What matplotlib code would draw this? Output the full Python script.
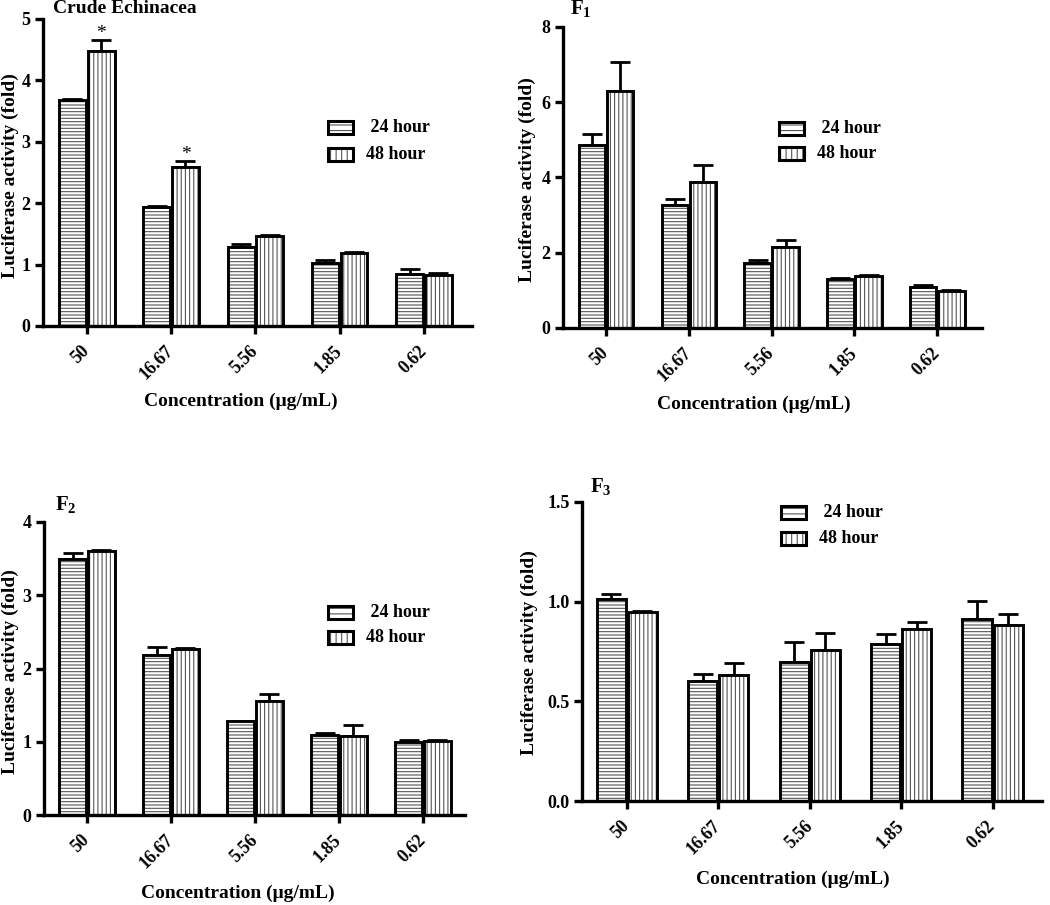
import numpy as np
import matplotlib
matplotlib.use("Agg")
import matplotlib.pyplot as plt
from matplotlib.patches import Rectangle

plt.rcParams['font.family'] = ['Liberation Serif', 'DejaVu Serif']
plt.rcParams['font.weight'] = 'bold'
plt.rcParams['mathtext.fontset'] = 'custom'
plt.rcParams['mathtext.rm'] = 'Liberation Serif:bold'
plt.rcParams['mathtext.bf'] = 'Liberation Serif:bold'
plt.rcParams['hatch.linewidth'] = 0.8

categories = ["50", "16.67", "5.56", "1.85", "0.62"]
series_names = [" 24 hour", "48 hour"]

crude_24 = [3.68, 1.94, 1.28, 1.02, 0.85]
crude_24_err = [0.02, 0.02, 0.05, 0.06, 0.08]
crude_48 = [4.48, 2.59, 1.47, 1.19, 0.83]
crude_48_err = [0.18, 0.10, 0.02, 0.01, 0.04]
crude_sig = [True, True, False, False, False]

f1_24 = [4.86, 3.26, 1.74, 1.29, 1.09]
f1_24_err = [0.29, 0.18, 0.06, 0.03, 0.05]
f1_48 = [6.29, 3.88, 2.15, 1.37, 0.98]
f1_48_err = [0.78, 0.45, 0.20, 0.05, 0.04]

f2_24 = [3.49, 2.19, 1.28, 1.09, 1.00]
f2_24_err = [0.08, 0.10, 0.01, 0.03, 0.02]
f2_48 = [3.61, 2.26, 1.56, 1.08, 1.01]
f2_48_err = [0.01, 0.02, 0.09, 0.15, 0.02]

f3_24 = [1.012, 0.603, 0.699, 0.786, 0.915]
f3_24_err = [0.027, 0.034, 0.10, 0.052, 0.09]
f3_48 = [0.950, 0.632, 0.758, 0.862, 0.882]
f3_48_err = [0.003, 0.062, 0.083, 0.035, 0.057]

W, H = 1050, 905
fig = plt.figure(figsize=(W / 100, H / 100), dpi=100)

def px_axes(left, right, top, bottom):
    return fig.add_axes([left / W, 1 - bottom / H, (right - left) / W, (bottom - top) / H])

XLAB = "Concentration (\u03bcg/mL)"
YLAB = "Luciferase activity (fold)"

def panel(box, xlim, ylim, yticks, yfmt, v24, e24, v48, e48, leg, xlab_pos, ylab_pos, width, sig=None):
    ax = px_axes(*box)
    x = np.arange(len(categories))
    off = width / 2 + 0.01
    for vals, errs, dx, hatch in [(v24, e24, -off, '-----'), (v48, e48, off, '||||')]:
        ax.bar(x + dx, vals, width, color='white', edgecolor='#555555', linewidth=0, hatch=hatch, zorder=2)
        ax.bar(x + dx, vals, width, fill=False, edgecolor='black', linewidth=2.1, zorder=3)
        ax.errorbar(x + dx, vals, yerr=[np.zeros(len(vals)), errs], fmt='none', ecolor='black',
                    elinewidth=2.0, capsize=7, capthick=2.0, zorder=1)
    if sig is not None:
        for i, s in enumerate(sig):
            if s:
                ax.text(x[i] + off, v48[i] + e48[i] + 0.005 * ylim[1], '*', ha='center', va='baseline',
                        fontsize=14, fontweight='normal')
    ax.set_xlim(*xlim)
    ax.set_ylim(*ylim)
    ax.set_yticks(yticks)
    ax.set_yticklabels([yfmt.format(t) for t in yticks])
    ax.set_xticks(x)
    ax.set_xticklabels(categories, rotation=45, ha='right', rotation_mode='anchor', va='center')
    for sp in ['top', 'right']:
        ax.spines[sp].set_visible(False)
    for sp in ['left', 'bottom']:
        ax.spines[sp].set_linewidth(2.4)
    ax.tick_params(axis='both', direction='out', length=6, width=2.4, labelsize=13, pad=3)
    ax.tick_params(axis='x', pad=10)
    ax.set_xlabel(XLAB, fontsize=14, fontweight='bold')
    ax.xaxis.set_label_coords(*xlab_pos)
    ax.set_ylabel(YLAB, fontsize=14, fontweight='bold')
    ax.yaxis.set_label_coords(*ylab_pos)
    # legend
    bw, bh = box[1] - box[0], box[3] - box[2]
    lx, ly1, ly2 = leg
    pw, ph = 25 / bw, 13 / bh
    for yy, hatch, name in [(ly1, '---', series_names[0]), (ly2, '|||', series_names[1])]:
        ax.add_patch(Rectangle((lx, yy - ph / 2), pw, ph, transform=ax.transAxes, facecolor='white',
                               edgecolor='#555555', linewidth=0, hatch=hatch, clip_on=False, zorder=4))
        ax.add_patch(Rectangle((lx, yy - ph / 2), pw, ph, transform=ax.transAxes, fill=False,
                               edgecolor='black', linewidth=2.2, clip_on=False, zorder=5))
        ax.text(lx + pw + 13 / bw, yy, name, transform=ax.transAxes, ha='left', va='center',
                fontsize=13, fontweight='bold')
    return ax

panel((43, 472, 19, 326), (-0.52, 4.57), (0, 5), [0, 1, 2, 3, 4, 5], "{:g}",
      crude_24, crude_24_err, crude_48, crude_48_err,
      (0.664, 0.645, 0.56), (0.46, -0.218), (-0.056, 0.49), 0.32, sig=crude_sig)
panel((563, 982, 27, 328), (-0.52, 4.54), (0, 8), [0, 2, 4, 6, 8], "{:g}",
      f1_24, f1_24_err, f1_48, f1_48_err,
      (0.516, 0.663, 0.58), (0.456, -0.224), (-0.064, 0.494), 0.32)
panel((44, 465, 522, 815), (-0.51, 4.5), (0, 4), [0, 1, 2, 3, 4], "{:g}",
      f2_24, f2_24_err, f2_48, f2_48_err,
      (0.675, 0.69, 0.605), (0.46, -0.239), (-0.059, 0.49), 0.32)
panel((582, 1042, 502, 801), (-0.49, 4.54), (0, 1.5), [0, 0.5, 1.0, 1.5], "{:.1f}",
      f3_24, f3_24_err, f3_48, f3_48_err,
      (0.433, 0.964, 0.877), (0.459, -0.232), (-0.096, 0.495), 0.32)

fig.text(53 / W, 1 - 13 / H, "Crude Echinacea", fontsize=14, fontweight='bold', va='baseline', ha='left')
fig.text(570 / W, 1 - 14 / H, r"F$_1$", fontsize=15, fontweight='bold', va='baseline', ha='left')
fig.text(55 / W, 1 - 510 / H, r"F$_2$", fontsize=15, fontweight='bold', va='baseline', ha='left')
fig.text(590 / W, 1 - 492 / H, r"F$_3$", fontsize=15, fontweight='bold', va='baseline', ha='left')

fig.savefig("out.png", dpi=100)
